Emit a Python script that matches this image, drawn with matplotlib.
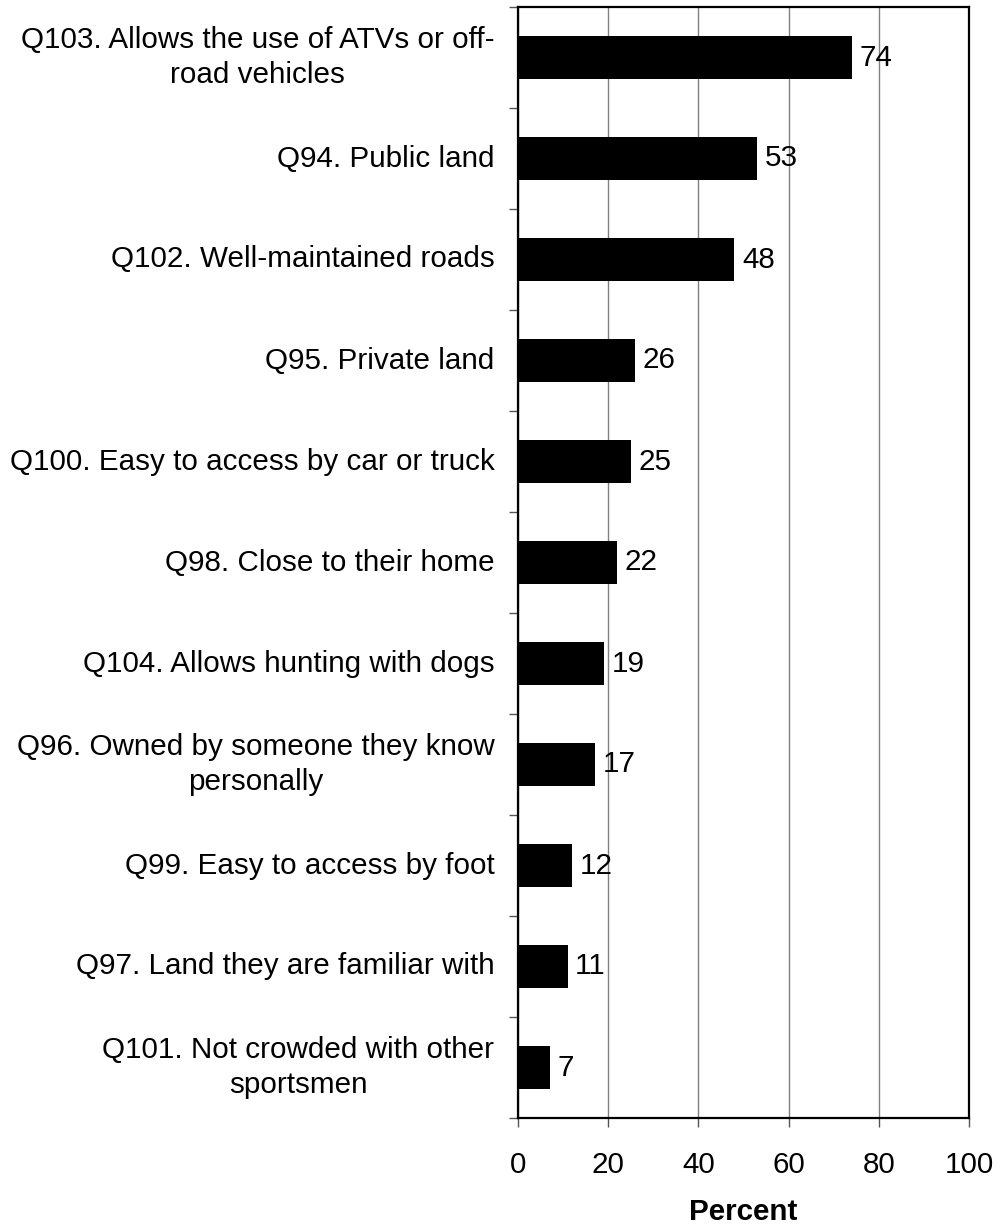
import numpy as np
import matplotlib
matplotlib.use('Agg')
import matplotlib.pyplot as plt

#---------------------------------------------------------#
# Data (top to bottom as shown)
#---------------------------------------------------------#
labels = [
    'Q103. Allows the use of ATVs or off-\nroad vehicles',
    'Q94. Public land',
    'Q102. Well-maintained roads',
    'Q95. Private land',
    'Q100. Easy to access by car or truck',
    'Q98. Close to their home',
    'Q104. Allows hunting with dogs',
    'Q96. Owned by someone they know\npersonally',
    'Q99. Easy to access by foot',
    'Q97. Land they are familiar with',
    'Q101. Not crowded with other\nsportsmen',
]
values = [74, 53, 48, 26, 25, 22, 19, 17, 12, 11, 7]
x_ticks = [0, 20, 40, 60, 80, 100]

plt.rcParams['font.family'] = ['Liberation Sans', 'DejaVu Sans']
fs = 21.3

#---------------------------------------------------------#
# Figure
#---------------------------------------------------------#
fig = plt.figure(figsize=(9.98, 12.27), dpi=100)
ax = fig.add_axes([518 / 998, 1 - 1118 / 1227, 451 / 998, 1111 / 1227])

y = np.arange(len(values))
ax.barh(y, values, height=0.42, color='black', zorder=2)

for yi, v in zip(y, values):
    ax.annotate(str(v), xy=(v, yi), xytext=(5.5, 0), textcoords='offset points',
                va='center', ha='left', fontsize=fs, zorder=3)

ax.set_xlim(0, 100)
ax.set_ylim(len(values) - 0.5, -0.5)
ax.set_xticks(x_ticks)
ax.xaxis.grid(True, color='#808080', linewidth=1.0, zorder=1)
ax.set_axisbelow(True)

# category labels, centred lines, block right of the axis
ax.set_yticks(y)
ax.set_yticklabels([])
ax.tick_params(axis='y', which='major', length=0)
for yi, lab in zip(y, labels):
    ax.annotate(lab, xy=(0, yi), xycoords=('axes fraction', 'data'),
                xytext=(-17, 0), textcoords='offset points',
                ha='right', va='center', multialignment='center',
                fontsize=fs, linespacing=1.3)

ax.set_yticks(np.arange(-0.5, len(values)), minor=True)
ax.tick_params(axis='y', which='minor', length=6.5, width=1, color='#555555', direction='out')
ax.tick_params(axis='x', which='major', length=6.5, width=1, color='#555555',
               direction='out', labelsize=fs, pad=17)

for s in ax.spines.values():
    s.set_linewidth(1.6)
    s.set_color('black')

ax.set_xlabel('Percent', fontsize=fs, fontweight='bold', labelpad=14)

fig.savefig('out.png', dpi=100)
